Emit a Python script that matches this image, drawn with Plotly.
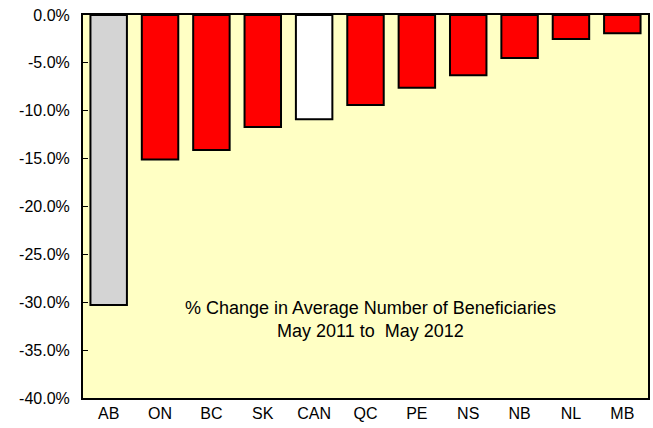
import plotly.graph_objects as go

provinces = ["AB", "ON", "BC", "SK", "CAN", "QC", "PE", "NS", "NB", "NL", "MB"]
pct_change = [-30.3, -15.1, -14.1, -11.7, -10.9, -9.4, -7.6, -6.3, -4.5, -2.5, -1.9]
bar_colors = ["#D4D4D4", "red", "red", "red", "white", "red", "red", "red", "red", "red", "red"]
y_ticks = [0, -5, -10, -15, -20, -25, -30, -35, -40]

fig = go.Figure(go.Bar(
    x=provinces,
    y=pct_change,
    marker_color=bar_colors,
    marker_line_color="black",
    marker_line_width=2,
    width=0.71,
))

fig.add_annotation(
    text="% Change in Average Number of Beneficiaries<br>May 2011 to  May 2012",
    x=0.508, y=-31.75, xref="paper", yref="y",
    showarrow=False,
    font=dict(size=18, color="black", family="Liberation Sans, Arial"),
)

fig.update_layout(
    width=653, height=428,
    margin=dict(l=83, r=3, t=15, b=30),
    plot_bgcolor="#FFFFC4",
    paper_bgcolor="white",
    font=dict(family="Liberation Sans, Arial", size=16, color="black"),
    showlegend=False,
    xaxis=dict(
        showline=True, linecolor="black", linewidth=2, mirror=True,
        ticks="", showgrid=False,
    ),
    yaxis=dict(
        range=[-40, 0],
        tickvals=y_ticks,
        ticktext=[f"{v:.1f}%" for v in y_ticks],
        showline=True, linecolor="black", linewidth=2, mirror=True,
        ticks="inside", ticklen=5, tickcolor="black",
        ticklabelstandoff=8,
        showgrid=False, zeroline=False,
    ),
)

# drop the browser's default 8px body margin so the figure fills the window
fig.write_html("out.html", config={"displayModeBar": False},
               post_script="document.body.style.margin='0px';")
